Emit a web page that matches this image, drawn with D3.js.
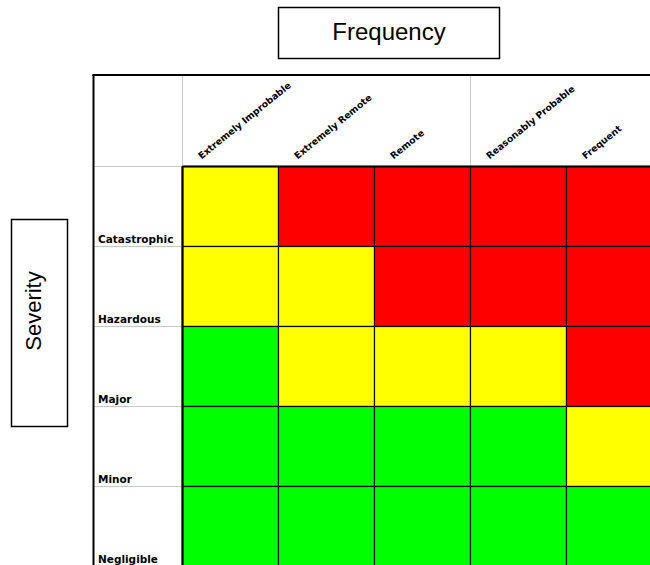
<!DOCTYPE html>
<html>
<head>
<meta charset="utf-8">
<script src="https://cdn.jsdelivr.net/npm/d3@7"></script>
<style>
  html, body { margin: 0; padding: 0; background: #fff; overflow: hidden; }
</style>
</head>
<body>
<div class="chartDiv"></div>
<script>
// risk matrix data
var frequencies = ["Extremely Improbable", "Extremely Remote", "Remote", "Reasonably Probable", "Frequent"];
var severities  = ["Catastrophic", "Hazardous", "Major", "Minor", "Negligible"];
// one row per severity, one letter per frequency: Y yellow, R red, G green
var riskRows = [
  ["Y", "R", "R", "R", "R"],
  ["Y", "Y", "R", "R", "R"],
  ["G", "Y", "Y", "Y", "R"],
  ["G", "G", "G", "G", "Y"],
  ["G", "G", "G", "G", "G"]
];
var riskColors = {"Y": "#ffff00", "R": "#ff0000", "G": "#00ff00"};

(function(){
  var width  = 650,
      height = 565;

  var svg = d3.select(".chartDiv").append("svg")
      .attr("width", width)
      .attr("height", height);

  var frameLeft = 93.5, frameTop = 75,
      gridLeft = 182.5, gridTop = 166.5,
      cellW = 96, cellH = 80;

  var x = d3.scaleBand().domain(frequencies)
      .range([gridLeft, gridLeft + cellW * frequencies.length]);
  var y = d3.scaleBand().domain(severities)
      .range([gridTop, gridTop + cellH * severities.length]);

  // flatten the matrix
  var cells = [];
  riskRows.forEach(function(row, i){
    row.forEach(function(v, j){
      cells.push({sev: severities[i], freq: frequencies[j], level: v});
    });
  });

  // header light grey lines
  svg.append("line")
      .attr("x1", x(frequencies[0])).attr("x2", x(frequencies[0]))
      .attr("y1", frameTop).attr("y2", gridTop)
      .attr("stroke", "#c8c8c8").attr("stroke-width", 1);
  svg.append("line")
      .attr("x1", x(frequencies[3])).attr("x2", x(frequencies[3]))
      .attr("y1", frameTop).attr("y2", gridTop)
      .attr("stroke", "#c8c8c8").attr("stroke-width", 1);
  svg.append("line")
      .attr("x1", frameLeft).attr("x2", gridLeft)
      .attr("y1", gridTop).attr("y2", gridTop)
      .attr("stroke", "#c8c8c8").attr("stroke-width", 1);

  // row separators in label column
  svg.selectAll(".rowSep").data(severities.slice(1)).enter().append("line")
      .attr("class", "rowSep")
      .attr("x1", frameLeft).attr("x2", gridLeft)
      .attr("y1", function(d){ return y(d); })
      .attr("y2", function(d){ return y(d); })
      .attr("stroke", "#c8c8c8").attr("stroke-width", 1);

  // cells
  svg.selectAll(".cell").data(cells).enter().append("rect")
      .attr("class", "cell")
      .attr("x", function(d){ return x(d.freq); })
      .attr("y", function(d){ return y(d.sev); })
      .attr("width", x.bandwidth())
      .attr("height", y.bandwidth())
      .attr("fill", function(d){ return riskColors[d.level]; })
      .attr("stroke", "#000").attr("stroke-width", 1.2);

  // heavier edges of the grid
  svg.append("line")
      .attr("x1", gridLeft).attr("x2", width)
      .attr("y1", gridTop).attr("y2", gridTop)
      .attr("stroke", "#000").attr("stroke-width", 2.2);
  svg.append("line")
      .attr("x1", gridLeft).attr("x2", gridLeft)
      .attr("y1", gridTop).attr("y2", height)
      .attr("stroke", "#000").attr("stroke-width", 2.2);

  // outer frame
  svg.append("line")
      .attr("x1", frameLeft - 1).attr("x2", width)
      .attr("y1", frameTop).attr("y2", frameTop)
      .attr("stroke", "#000").attr("stroke-width", 2);
  svg.append("line")
      .attr("x1", frameLeft).attr("x2", frameLeft)
      .attr("y1", frameTop).attr("y2", height)
      .attr("stroke", "#000").attr("stroke-width", 2);

  // severity labels
  svg.selectAll(".sevLabel").data(severities).enter().append("text")
      .attr("class", "sevLabel")
      .attr("x", frameLeft + 4.5)
      .attr("y", function(d){ return y(d) + y.bandwidth() - 4; })
      .attr("font-family", "Verdana, 'DejaVu Sans', sans-serif")
      .attr("font-weight", "bold")
      .attr("font-size", "10.5px")
      .attr("fill", "#000")
      .text(function(d){ return d; });

  // frequency labels, slanted
  svg.selectAll(".freqLabel").data(frequencies).enter().append("text")
      .attr("class", "freqLabel")
      .attr("transform", function(d){
        return "translate(" + (x(d) + 19) + "," + (gridTop - 7) + ") rotate(-39)";
      })
      .attr("font-family", "Verdana, 'DejaVu Sans', sans-serif")
      .attr("font-weight", "bold")
      .attr("font-size", "9.3px")
      .attr("fill", "#000")
      .text(function(d){ return d; });

  // title boxes
  svg.append("rect")
      .attr("x", 278.5).attr("y", 7.5).attr("width", 221).attr("height", 51)
      .attr("fill", "#fff").attr("stroke", "#000").attr("stroke-width", 1.5);
  svg.append("text")
      .attr("x", 389).attr("y", 40)
      .attr("text-anchor", "middle")
      .attr("font-family", "Arial, 'Liberation Sans', sans-serif")
      .attr("font-size", "24px")
      .text("Frequency");

  svg.append("rect")
      .attr("x", 11.5).attr("y", 219.5).attr("width", 56).attr("height", 207)
      .attr("fill", "#fff").attr("stroke", "#000").attr("stroke-width", 1.5);
  svg.append("text")
      .attr("transform", "translate(41,311) rotate(-90)")
      .attr("text-anchor", "middle")
      .attr("font-family", "Arial, 'Liberation Sans', sans-serif")
      .attr("font-size", "22px")
      .text("Severity");
})();
</script>
</body>
</html>
